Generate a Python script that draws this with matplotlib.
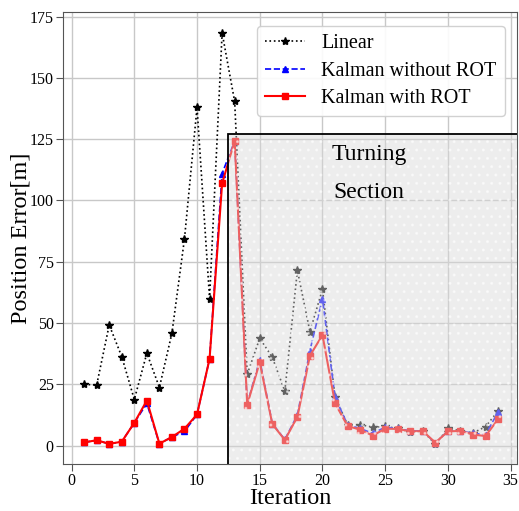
import matplotlib.pyplot as plt
from matplotlib.patches import Rectangle

plt.rcParams["font.family"] = ["Liberation Serif", "DejaVu Serif"]

iterations = list(range(1, 35))

linear = [25, 24.7, 49.2, 36.3, 18.8, 37.7, 23.7, 45.9, 84.4, 138,
          60, 168.4, 140.4, 29.1, 43.8, 36, 22.2, 71.5, 46.5, 63.8,
          20, 8.5, 8.5, 7.6, 7.8, 7, 5.6, 6, 0.5, 7.2,
          6, 5.2, 7.7, 14.2]

kalman_no_rot = [1.3, 2.2, 0.7, 1.6, 9.3, 17.2, 0.8, 3.5, 5.8, 12.7,
                 35.4, 111, 124.3, 17, 35, 9, 2.5, 12.5, 38.8, 60,
                 19.8, 8.5, 7, 5, 7.5, 7, 6, 6, 1, 6,
                 6, 5, 4.5, 13.7]

kalman_rot = [1.3, 2.2, 0.7, 1.6, 9.3, 18.4, 0.8, 3.5, 6.9, 12.7,
              35.4, 107, 124.3, 16.7, 34, 8.8, 2.3, 11.7, 36.7, 45.1,
              17.3, 8, 6.5, 4.1, 6.9, 6.8, 5.8, 5.9, 1.2, 5.8,
              6, 4.5, 3.9, 10.8]

fig = plt.figure(figsize=(5.19, 5.11), dpi=100)
ax = fig.add_axes([0.121, 0.092, 0.875, 0.885])

ax.plot(iterations, linear, color="black", linestyle=":", linewidth=1.2,
        marker="*", markersize=6, label="Linear")
ax.plot(iterations, kalman_no_rot, color="blue", linestyle="--", linewidth=1.2,
        marker="^", markersize=5, label="Kalman without ROT")
ax.plot(iterations, kalman_rot, color="red", linestyle="-", linewidth=1.5,
        marker="s", markersize=5, label="Kalman with ROT")

# turning section overlay
ax.add_patch(Rectangle((12.5, -10), 30, 137.2, facecolor="#d9d9d9",
                       edgecolor="none", alpha=0.45, zorder=5))
ax.add_patch(Rectangle((12.5, -10), 30, 137.2, facecolor="none",
                       edgecolor="white", hatch="..", linewidth=0,
                       alpha=0.5, zorder=5))
ax.add_patch(Rectangle((12.5, -10), 30, 137.2, facecolor="none",
                       edgecolor="black", linewidth=1.3, zorder=6))
ax.text(23.7, 111, "Turning\n\nSection", ha="center", va="center",
        fontsize=17, linespacing=0.9, zorder=7)

ax.set_xlim(-0.7, 35.5)
ax.set_ylim(-7.5, 177)
ax.set_xticks(range(0, 36, 5))
ax.set_yticks(range(0, 176, 25))
ax.tick_params(labelsize=11.5, length=5, pad=1.5, color="#555555")
ax.grid(True, color="#c8c8c8", linewidth=1)
ax.set_axisbelow(True)
for s in ax.spines.values():
    s.set_color("#555555")

ax.set_xlabel("Iteration", fontsize=17.5, labelpad=-1)
ax.set_ylabel("Position Error[m]", fontsize=17.5, labelpad=-1)
ax.legend(loc="upper right", fontsize=14.5, framealpha=0.9, handlelength=2.0,
          borderpad=0.4, labelspacing=0.4, bbox_to_anchor=(0.995, 0.99)).set_zorder(10)

fig.savefig("out.png", dpi=100)
